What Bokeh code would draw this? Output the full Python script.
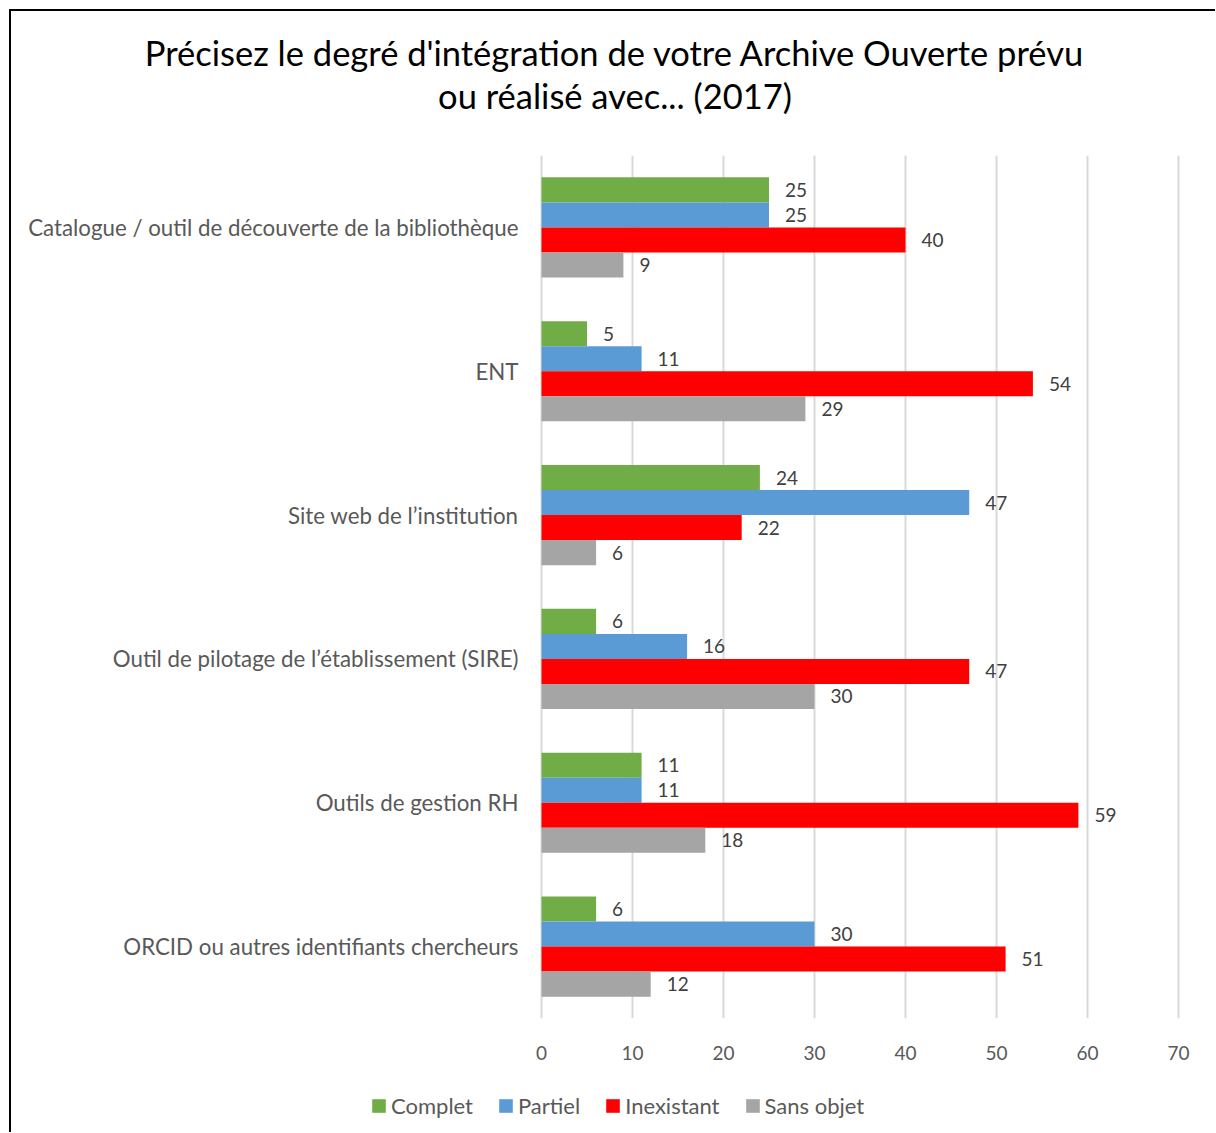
from bokeh.plotting import figure
from bokeh.layouts import column
from bokeh.models import (FactorRange, Range1d, FixedTicker, Legend, LegendItem,
                          ColumnDataSource, Label)
from bokeh.transform import dodge
from bokeh.core.properties import value
from bokeh.embed import file_html
from bokeh.resources import INLINE

categories = [
    "Catalogue / outil de découverte de la bibliothèque",
    "ENT",
    "Site web de l\u2019institution",
    "Outil de pilotage de l\u2019établissement (SIRE)",
    "Outils de gestion RH",
    "ORCID ou autres identifiants chercheurs",
]
complet = [25, 5, 24, 6, 11, 6]
partiel = [25, 11, 47, 16, 11, 30]
inexistant = [40, 54, 22, 47, 59, 51]
sans_objet = [9, 29, 6, 30, 18, 12]
series_names = ["Complet", "Partiel", "Inexistant", "Sans objet"]
series_keys = ["complet", "partiel", "inexistant", "sans_objet"]
colors = ["#70AD47", "#5B9BD5", "#FF0000", "#A5A5A5"]
x_ticks = [0, 10, 20, 30, 40, 50, 60, 70]
title_line1 = "Précisez le degré d'intégration de votre Archive Ouverte prévu"
title_line2 = "ou réalisé avec... (2017)"

FONT = "Lato"
W = 1204


def blank_figure(height):
    f = figure(width=W, height=height, x_range=Range1d(0, W), y_range=Range1d(0, height),
               title=None, output_backend="svg", toolbar_location=None,
               x_axis_location=None, y_axis_location=None,
               min_border_left=0, min_border_right=0, min_border_top=0, min_border_bottom=0)
    f.frame_align = False
    f.outline_line_color = None
    f.grid.visible = False
    f.background_fill_color = "white"
    f.border_fill_color = "white"
    return f


# ---- title strip ----
TH = 132
tp = blank_figure(TH)
for txt, yb in ((title_line1, 91), (title_line2, 48)):
    tp.add_layout(Label(x=603.5, y=yb, text=txt, text_align="center", text_baseline="alphabetic",
                        text_font=FONT, text_font_size="34.5px", text_color="#000000"))

# ---- main chart ----
data = dict(cat=categories, complet=complet, partiel=partiel,
            inexistant=inexistant, sans_objet=sans_objet)
for k in series_keys:
    data[k + "_lbl"] = [str(v) for v in data[k]]
src = ColumnDataSource(data)

pad = 0.22  # small range padding so the 0 and 70 grid lines are fully drawn
p = figure(width=W, height=943, title=None,
           y_range=FactorRange(factors=list(reversed(categories))),
           x_range=Range1d(-pad, 70 + pad),
           output_backend="svg", toolbar_location=None,
           min_border_left=528, min_border_right=35,
           min_border_top=12, min_border_bottom=68)
p.frame_align = False
p.outline_line_color = None
p.background_fill_color = "white"
p.border_fill_color = "white"

h = 0.174
offsets = [1.5 * h, 0.5 * h, -0.5 * h, -1.5 * h]
for key, col, off in zip(series_keys, colors, offsets):
    p.hbar(y=dodge("cat", off, range=p.y_range), left=0, right=key, height=h,
           fill_color=col, line_color=None, source=src)
    p.text(x=key, y=dodge("cat", off, range=p.y_range), text=key + "_lbl",
           x_offset=16, text_baseline="middle", text_align="left",
           text_font=value(FONT), text_font_size="19px", text_color="#404040",
           source=src)

p.xaxis.ticker = FixedTicker(ticks=x_ticks)
p.xaxis.axis_line_color = None
p.xaxis.major_tick_line_color = None
p.xaxis.minor_tick_line_color = None
p.xaxis.major_label_text_font = FONT
p.xaxis.major_label_text_font_size = "19px"
p.xaxis.major_label_text_color = "#595959"
p.xaxis.major_label_standoff = 21

p.yaxis.axis_line_color = None
p.yaxis.major_tick_line_color = None
p.yaxis.major_tick_out = 0
p.yaxis.major_label_text_font = FONT
p.yaxis.major_label_text_font_size = "22.3px"
p.yaxis.major_label_text_color = "#595959"
p.yaxis.major_label_standoff = 21

p.xgrid.grid_line_color = "#D9D9D9"
p.xgrid.grid_line_width = 2
p.ygrid.grid_line_color = None

# ---- legend strip ----
LH = 46
lp = blank_figure(LH)
legend_renderers = [lp.hbar(y=[-10], left=[0], right=[0], height=1, fill_color=c, line_color=None)
                    for c in colors]
legend = Legend(items=[LegendItem(label=n, renderers=[r]) for n, r in zip(series_names, legend_renderers)],
                orientation="horizontal", location=(359, 13),
                glyph_width=17, glyph_height=17, label_standoff=4, spacing=24,
                padding=0, margin=0, border_line_color=None, background_fill_alpha=0,
                label_text_font=FONT, label_text_font_size="22px", label_text_color="#595959")
lp.add_layout(legend)

layout = column(tp, p, lp, spacing=0)
layout.margin = (9, 0, 0, 9)
layout.styles = {"border-left": "2px solid black", "border-top": "2px solid black"}

open("out.html", "w").write(file_html(layout, INLINE))
